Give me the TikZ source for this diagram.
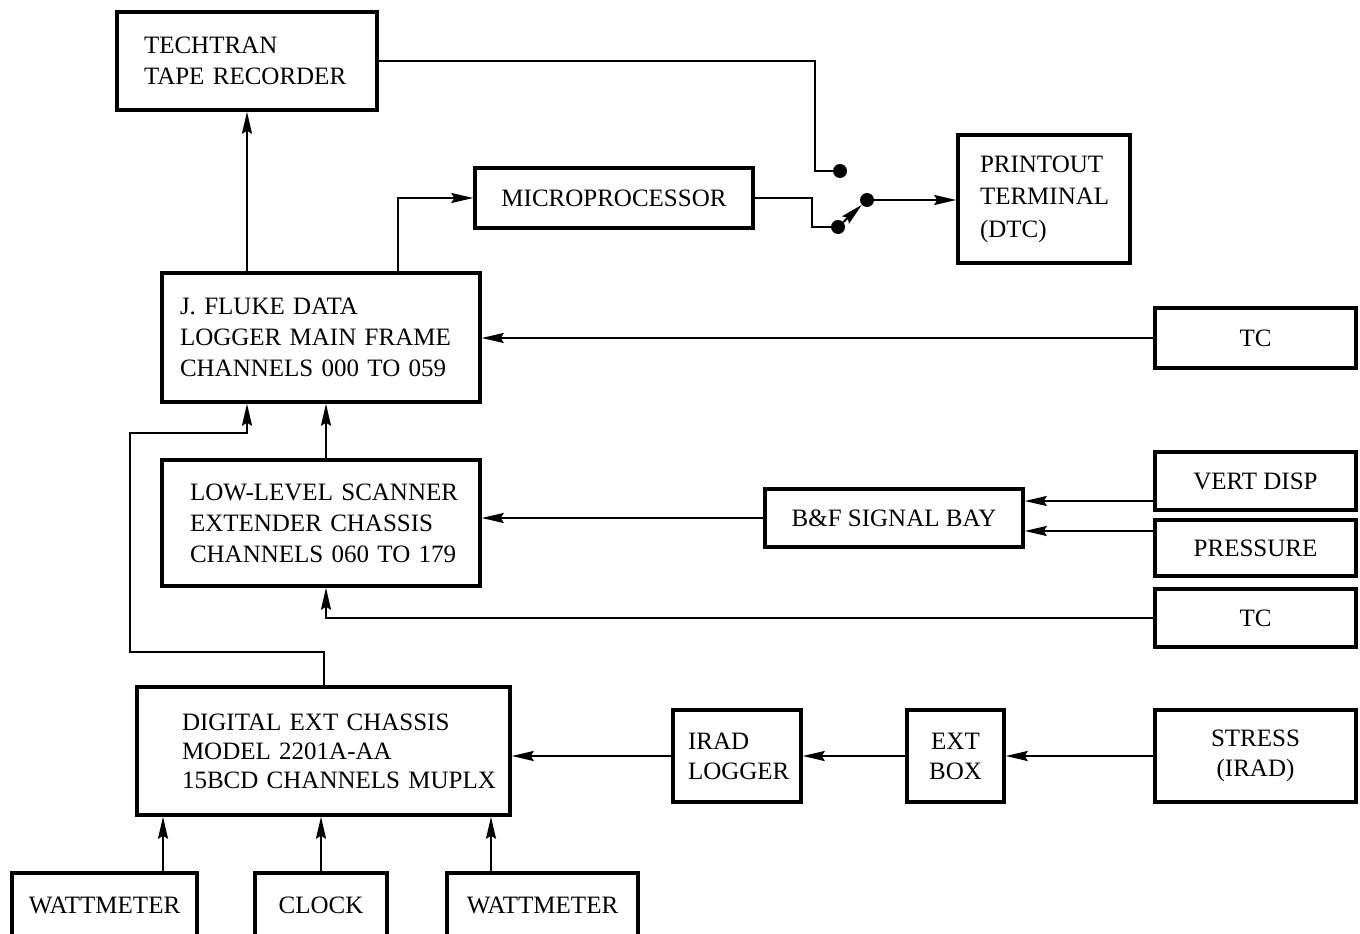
\documentclass[tikz,border=0pt]{standalone}
\usepackage{fontspec}
\setmainfont{Liberation Serif}
\usetikzlibrary{arrows.meta}
\begin{document}
\begin{tikzpicture}[x=1pt,y=-1pt,
  txt/.style={font=\fontsize{25}{31}\selectfont},
  box/.style={draw, line width=3.5pt, inner sep=0pt, txt, align=center},
  lbox/.style={draw, line width=3.5pt, inner ysep=0pt, txt, align=left},
  dot/.style={circle, fill, inner sep=0pt, minimum size=14pt},
  ln/.style={line width=2pt},
  arr/.style={ln, -{Stealth[length=22pt,width=10pt,inset=3pt]}}]
\useasboundingbox (0,0) rectangle (1360,934);
\clip (0,0) rectangle (1360,934);
% boxes
\node[lbox, inner xsep=27pt, text width=206pt, minimum height=98pt] (tech) at (247,61) {\mbox{TECHTRAN}\\\mbox{TAPE RECORDER}};
\node[box, minimum width=278pt, minimum height=60pt] (micro) at (614,198) {MICROPROCESSOR};
\node[lbox, inner xsep=22pt, text width=128pt, minimum height=128pt, font=\fontsize{25}{32.5}\selectfont] (print) at (1044,199) {\mbox{PRINTOUT}\\\mbox{TERMINAL}\\\mbox{(DTC)}};
\node[lbox, inner xsep=18pt, text width=282pt, minimum height=129pt] (fluke) at (321,337.5) {\mbox{J. FLUKE DATA}\\\mbox{LOGGER MAIN FRAME}\\\mbox{CHANNELS 000 TO 059}};
\node[box, minimum width=201pt, minimum height=60pt] (tc1) at (1255.5,338) {TC};
\node[lbox, inner xsep=28pt, text width=262pt, minimum height=126pt] (low) at (321,523) {\mbox{LOW-LEVEL SCANNER}\\\mbox{EXTENDER CHASSIS}\\\mbox{CHANNELS 060 TO 179}};
\node[box, minimum width=258pt, minimum height=58pt] (bf) at (894,518) {B\&F SIGNAL BAY};
\node[box, minimum width=201pt, minimum height=58pt] (vd) at (1255.5,481) {VERT DISP};
\node[box, minimum width=201pt, minimum height=56pt] (pr) at (1255.5,548) {PRESSURE};
\node[box, minimum width=201pt, minimum height=58pt] (tc2) at (1255.5,618) {TC};
\node[lbox, inner xsep=45pt, text width=283pt, minimum height=128pt, font=\fontsize{25}{29}\selectfont] (dig) at (323.5,751) {\mbox{DIGITAL EXT CHASSIS}\\\mbox{MODEL 2201A-AA}\\\mbox{15BCD CHANNELS MUPLX}};
\node[lbox, inner xsep=15pt, text width=98pt, minimum height=92pt, font=\fontsize{25}{30}\selectfont] (irad) at (737,756) {\mbox{IRAD}\\\mbox{LOGGER}};
\node[box, minimum width=97pt, minimum height=92pt, font=\fontsize{25}{30}\selectfont] (ext) at (955.5,756) {EXT\\BOX};
\node[box, minimum width=201pt, minimum height=92pt, font=\fontsize{25}{30}\selectfont] (stress) at (1255.5,756) {STRESS\\(IRAD)};
\node[box, minimum width=185pt, minimum height=64pt] (w1) at (104.5,905) {WATTMETER};
\node[box, minimum width=132pt, minimum height=64pt] (clock) at (321,905) {CLOCK};
\node[box, minimum width=191pt, minimum height=64pt] (w2) at (542.5,905) {WATTMETER};
% switch
\node[dot] (sw1) at (840,171) {};
\node[dot] (sw2) at (838,227) {};
\node[dot] (sw3) at (867,200) {};
\coordinate (k1) at (815,171);
\coordinate (k2) at (812,227);
\coordinate (c1) at (130,652);
\coordinate (c2) at (247,433);
% connectors
\draw[arr] (fluke.north -| tech.south) -- (tech.south);
\draw[arr] ([xshift=77pt]fluke.north) |- (micro.west);
\draw[ln] (tech.east) -| (k1) -- (sw1);
\draw[ln] (micro.east) -| (k2) -- (sw2);
\draw[arr] (sw2) -- (sw3);
\draw[arr] (sw3) -- (sw3 -| print.west);
\draw[arr] (tc1.west) -- (tc1.west -| fluke.east);
\draw[arr] ([xshift=5pt]low.north) -- ([xshift=5pt]fluke.south);
\draw[arr] (dig.north) |- (c1) |- (c2) -- (c2 |- fluke.south);
\draw[arr] (bf.west) -- (bf.west -| low.east);
\draw[arr] (vd.west |- 0,501) -- (bf.east |- 0,501);
\draw[arr] (pr.west |- 0,531) -- (bf.east |- 0,531);
\draw[arr] (tc2.west) -| ([xshift=5pt]low.south);
\draw[arr] (irad.west) -- (irad.west -| dig.east);
\draw[arr] (ext.west) -- (ext.west -| irad.east);
\draw[arr] (stress.west) -- (stress.west -| ext.east);
\draw[arr] (w1.north -| 163,0) -- (dig.south -| 163,0);
\draw[arr] (clock.north) -- (clock.north |- dig.south);
\draw[arr] (w2.north -| 491,0) -- (dig.south -| 491,0);
\end{tikzpicture}
\end{document}
